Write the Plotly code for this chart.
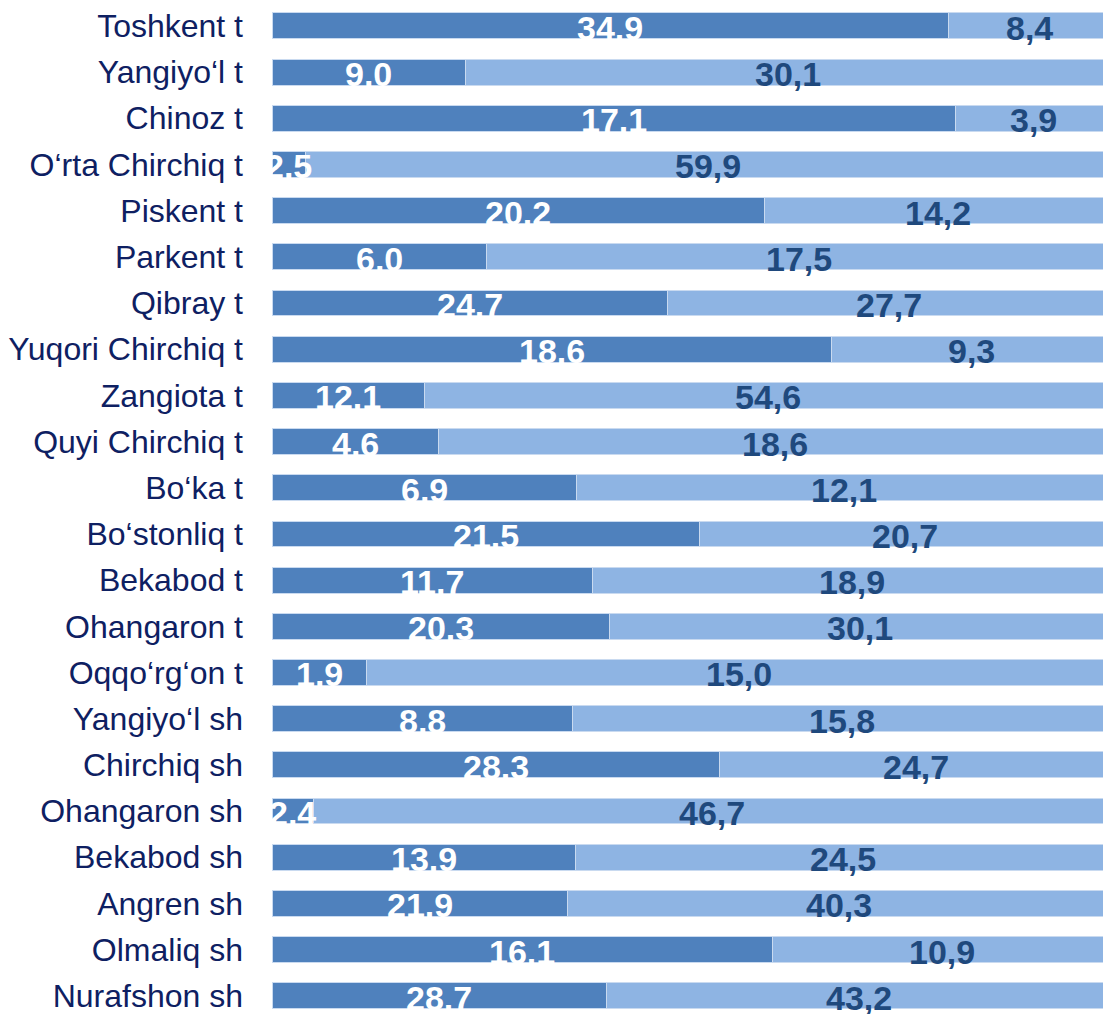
import plotly.graph_objects as go

categories = ["Toshkent t", "Yangiyo‘l t", "Chinoz t", "O‘rta Chirchiq t", "Piskent t",
              "Parkent t", "Qibray t", "Yuqori Chirchiq t", "Zangiota t", "Quyi Chirchiq t",
              "Bo‘ka t", "Bo‘stonliq t", "Bekabod t", "Ohangaron t", "Oqqo‘rg‘on t",
              "Yangiyo‘l sh", "Chirchiq sh", "Ohangaron sh", "Bekabod sh", "Angren sh",
              "Olmaliq sh", "Nurafshon sh"]
dark_vals = [34.9, 9.0, 17.1, 2.5, 20.2, 6.0, 24.7, 18.6, 12.1, 4.6, 6.9, 21.5, 11.7, 20.3,
             1.9, 8.8, 28.3, 2.4, 13.9, 21.9, 16.1, 28.7]
light_vals = [8.4, 30.1, 3.9, 59.9, 14.2, 17.5, 27.7, 9.3, 54.6, 18.6, 12.1, 20.7, 18.9, 30.1,
              15.0, 15.8, 24.7, 46.7, 24.5, 40.3, 10.9, 43.2]
dark_labels = [f"{v:.1f}" for v in dark_vals]
light_labels = [f"{v:.1f}".replace(".", ",") for v in light_vals]

DARK = "#4F81BD"
LIGHT = "#8EB4E3"
LABEL_DARK = "#1F497D"
CAT_COLOR = "#0E2062"

fig = go.Figure()
fig.add_trace(go.Bar(y=categories, x=dark_vals, orientation="h", marker=dict(color=DARK, line=dict(color="#C9DAF0", width=1)), hoverinfo="skip"))
fig.add_trace(go.Bar(y=categories, x=light_vals, orientation="h", marker=dict(color=LIGHT, line=dict(color="#C9DAF0", width=1)), hoverinfo="skip"))

annotations = []
for c, d, l, dl, ll in zip(categories, dark_vals, light_vals, dark_labels, light_labels):
    tot = d + l
    pd_ = d / tot * 100
    annotations.append(dict(x=pd_ / 2, y=c, text=dl, showarrow=False, xref="x", yref="y",
                            yshift=-2, font=dict(family="Liberation Sans, Arial", size=34, color="white", weight="bold")))
    annotations.append(dict(x=pd_ + (100 - pd_) / 2, y=c, text=ll, showarrow=False, xref="x", yref="y",
                            yshift=-2, font=dict(family="Liberation Sans, Arial", size=34, color=LABEL_DARK, weight="bold")))

fig.update_layout(
    barmode="stack", barnorm="percent", bargap=0.44,
    width=1103, height=1006,
    margin=dict(l=262, r=0, t=0, b=0),
    plot_bgcolor="white", paper_bgcolor="white",
    showlegend=False,
    annotations=annotations,
    xaxis=dict(range=[0, 100], visible=False, fixedrange=True),
    yaxis=dict(type="category", range=[21.33, -0.323], showgrid=False, zeroline=False, showline=False,
               ticks="", ticklabelstandoff=28,
               tickfont=dict(family="Liberation Sans, Arial", size=32, color=CAT_COLOR)),
)
fig.write_html("out.html")
